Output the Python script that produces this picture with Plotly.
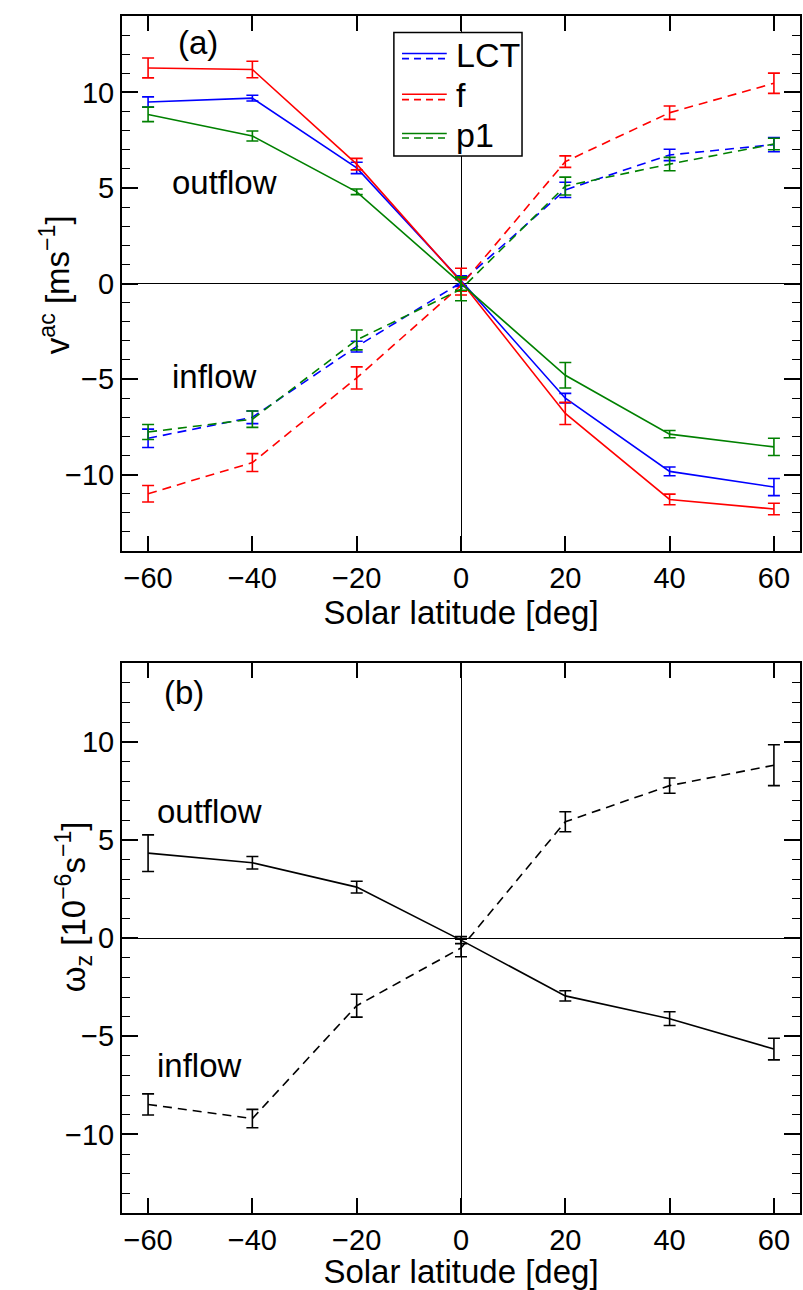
import plotly.graph_objects as go

# Solar latitude of each measurement [deg]
latitude = [-60, -40, -20, 0, 20, 40, 60]

# Panel (a): v^ac for outflow (solid) and inflow (dashed) regions [m/s]
lct_out = [9.5, 9.7, 6.05, 0.15, -6.0, -9.83, -10.65]
lct_out_err = [0.27, 0.15, 0.3, 0.25, 0.25, 0.23, 0.45]
f_out = [11.28, 11.2, 6.25, 0.1, -6.8, -11.3, -11.8]
f_out_err = [0.52, 0.43, 0.3, 0.7, 0.58, 0.28, 0.3]
p1_out = [8.85, 7.72, 4.8, 0.0, -4.8, -7.88, -8.55]
p1_out_err = [0.38, 0.26, 0.15, 0.35, 0.67, 0.19, 0.45]

lct_in = [-8.1, -7.0, -3.3, 0.05, 4.9, 6.73, 7.27]
lct_in_err = [0.48, 0.33, 0.28, 0.2, 0.4, 0.3, 0.37]
f_in = [-11.0, -9.37, -4.94, -0.1, 6.38, 8.94, 10.48]
f_in_err = [0.43, 0.47, 0.58, 0.3, 0.3, 0.35, 0.53]
p1_in = [-7.77, -7.1, -2.95, -0.3, 5.1, 6.25, 7.3]
p1_in_err = [0.39, 0.43, 0.52, 0.6, 0.47, 0.35, 0.3]

# Panel (b): omega_z for outflow (solid) and inflow (dashed) regions [1e-6 1/s]
omega_out = [4.33, 3.84, 2.6, -0.1, -2.94, -4.1, -5.65]
omega_out_err = [0.93, 0.32, 0.3, 0.18, 0.26, 0.35, 0.55]
omega_in = [-8.47, -9.19, -3.44, -0.5, 5.93, 7.77, 8.81]
omega_in_err = [0.54, 0.47, 0.58, 0.45, 0.51, 0.39, 1.04]

methods = ["LCT", "f", "p1"]
colors = {"LCT": "#0000ff", "f": "#ff0000", "p1": "#008000"}
series_a = {
    "LCT": (lct_out, lct_out_err, lct_in, lct_in_err),
    "f": (f_out, f_out_err, f_in, f_in_err),
    "p1": (p1_out, p1_out_err, p1_in, p1_in_err),
}

FONT = "Liberation Sans, Arial, Helvetica, sans-serif"
DASH = "9px,6px"
LW = 1.6

fig = go.Figure()


def add_series(y, err, color, dash, xa, ya):
    fig.add_trace(go.Scatter(
        x=latitude, y=y, mode="lines", xaxis=xa, yaxis=ya,
        line=dict(color=color, width=LW, dash=dash),
        error_y=dict(type="data", array=err, visible=True, color=color,
                     thickness=1.6, width=6),
        showlegend=False, hoverinfo="skip",
    ))


for m in methods:
    out, out_err, inn, inn_err = series_a[m]
    add_series(inn, inn_err, colors[m], DASH, "x", "y")
    add_series(out, out_err, colors[m], "solid", "x", "y")

add_series(omega_in, omega_in_err, "#000000", DASH, "x2", "y2")
add_series(omega_out, omega_out_err, "#000000", "solid", "x2", "y2")

tick_font = dict(family=FONT, size=29, color="black")
title_font = dict(family=FONT, size=33, color="black")

xcommon = dict(
    range=[-65, 65], tick0=0, dtick=20, ticks="inside", ticklen=15,
    tickwidth=1.5, tickcolor="black", showline=True, linewidth=2,
    linecolor="black", mirror="ticks", showgrid=False, zeroline=True,
    zerolinecolor="black", zerolinewidth=1.3, tickfont=tick_font,
)
ycommon = dict(
    range=[-14, 14], tick0=0, dtick=5, ticks="inside", ticklen=16,
    tickwidth=1.5, tickcolor="black", showline=True, linewidth=2,
    linecolor="black", mirror="ticks", showgrid=False, zeroline=True,
    zerolinecolor="black", zerolinewidth=1.3, tickfont=tick_font,
    minor=dict(dtick=1, ticks="inside", ticklen=8, tickwidth=1.2,
               tickcolor="black", showgrid=False),
)

fig.update_layout(
    width=803, height=1290,
    margin=dict(l=122, r=1, t=16, b=77),
    plot_bgcolor="white", paper_bgcolor="white",
    font=dict(family=FONT, color="black"),
    showlegend=False,
    xaxis=dict(xcommon, domain=[0, 1], anchor="y",
               title=dict(text="Solar latitude [deg]", font=title_font, standoff=3)),
    yaxis=dict(ycommon, domain=[0.553, 1], anchor="x"),
    xaxis2=dict(xcommon, domain=[0, 1], anchor="y2",
                title=dict(text="Solar latitude [deg]", font=title_font, standoff=3)),
    yaxis2=dict(ycommon, domain=[0, 0.4592], anchor="x2"),
)

label_font = dict(family=FONT, size=33, color="black")
annotations = [
    # vertical axis titles
    dict(x=-0.0985, y=0.7753, xref="paper", yref="paper",
         text="v<sup>ac</sup> [ms<sup>−1</sup>]", showarrow=False, textangle=-90,
         font=title_font, xanchor="center", yanchor="middle"),
    dict(x=-0.072, y=0.2556, xref="paper", yref="paper",
         text="ω<sub>z</sub> [10<sup>−6</sup>s<sup>−1</sup>]", showarrow=False,
         textangle=-90, font=title_font, xanchor="center", yanchor="middle"),
    # panel labels and region names
    dict(x=-50.5, y=12.6, xref="x", yref="y", text="(a)", showarrow=False,
         font=label_font, xanchor="center", yanchor="middle"),
    dict(x=-55.8, y=5.3, xref="x", yref="y", text="outflow", showarrow=False,
         font=label_font, xanchor="left", yanchor="middle"),
    dict(x=-55.8, y=-4.85, xref="x", yref="y", text="inflow", showarrow=False,
         font=label_font, xanchor="left", yanchor="middle"),
    dict(x=-53.1, y=12.5, xref="x2", yref="y2", text="(b)", showarrow=False,
         font=label_font, xanchor="center", yanchor="middle"),
    dict(x=-58.6, y=6.45, xref="x2", yref="y2", text="outflow", showarrow=False,
         font=label_font, xanchor="left", yanchor="middle"),
    dict(x=-58.6, y=-6.5, xref="x2", yref="y2", text="inflow", showarrow=False,
         font=label_font, xanchor="left", yanchor="middle"),
]

# Legend box for panel (a): solid + dashed sample per method
shapes = [dict(type="rect", xref="x domain", yref="y domain",
               x0=0.401, x1=0.590, y0=0.7385, y1=0.969,
               line=dict(color="black", width=1.5), fillcolor="white", layer="above")]
rows = [(0.9298, 0.9204, 0.9266), (0.8537, 0.8438, 0.852), (0.7803, 0.7721, 0.778)]
for m, (ys, yd, yt) in zip(methods, rows):
    shapes.append(dict(type="line", xref="x domain", yref="y domain",
                       x0=0.413, x1=0.479, y0=ys, y1=ys, layer="above",
                       line=dict(color=colors[m], width=LW)))
    shapes.append(dict(type="line", xref="x domain", yref="y domain",
                       x0=0.413, x1=0.479, y0=yd, y1=yd, layer="above",
                       line=dict(color=colors[m], width=LW, dash="7px,5px")))
    annotations.append(dict(x=0.4895, y=yt, xref="x domain", yref="y domain",
                            text=m, showarrow=False, xanchor="left", yanchor="middle",
                            font=dict(family=FONT, size=34, color="black")))

fig.update_layout(shapes=shapes, annotations=annotations)

fig.write_html("out.html")
